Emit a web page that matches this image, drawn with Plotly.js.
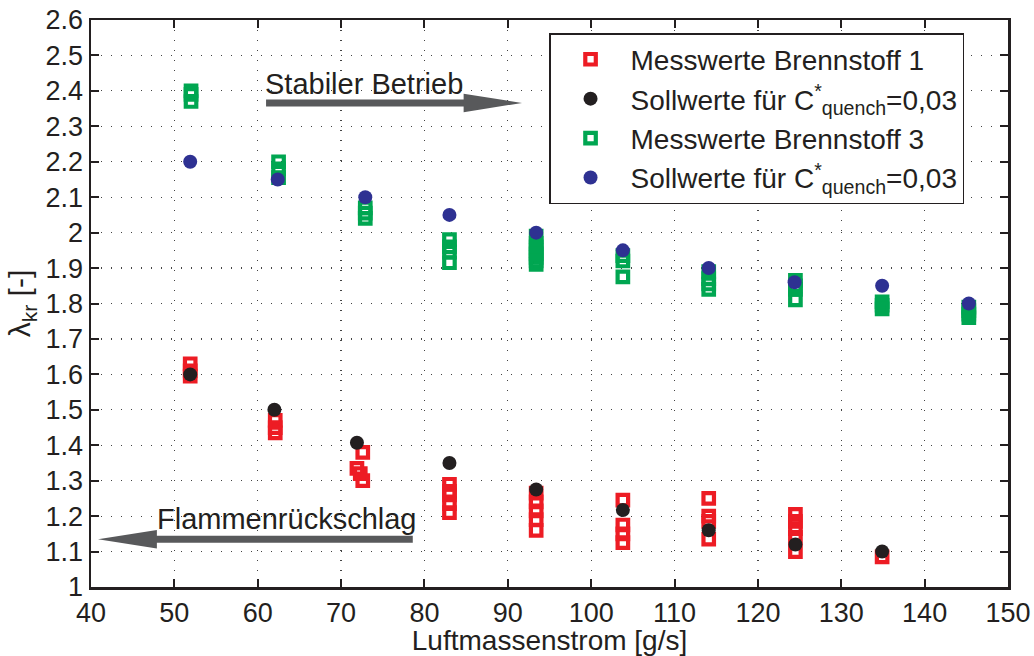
<!DOCTYPE html>
<html><head><meta charset="utf-8">
<script src="https://cdn.plot.ly/plotly-3.0.1.min.js"></script>
<style>body{margin:0;background:#fff}#c{width:1034px;height:656px}</style>
</head><body><div id="c"></div>
<script>
// Measured values, Brennstoff 1 (red squares)
const red_x = [51.9,51.9,51.9, 62.1,62.1,62.1, 72.6,71.9,72.3,72.6, 83,83,83,83,83,
  93.4,93.4,93.4,93.4,93.4, 103.8,103.8,103.8,103.8, 114.1,114.1,114.1,114.1,
  124.5,124.5,124.5,124.5,124.5, 134.9];
const red_y = [1.63,1.61,1.595, 1.47,1.45,1.435, 1.38,1.335,1.32,1.30, 1.29,1.27,1.26,1.235,1.21,
  1.265,1.24,1.215,1.19,1.16, 1.245,1.175,1.15,1.125, 1.25,1.20,1.185,1.135,
  1.205,1.185,1.165,1.14,1.10, 1.085];
// Target values, Brennstoff 1 (black dots)
const black_x = [51.9,62.0,71.9,83.0,93.4,103.8,114.1,124.5,134.9];
const black_y = [1.60,1.50,1.407,1.35,1.275,1.217,1.16,1.12,1.10];
// Measured values, Brennstoff 3 (green squares)
const green_x = [52,52,52, 62.5,62.5,62.5, 72.9,72.9,72.9, 83,83,83,83,
  93.4,93.4,93.4,93.4,93.4,93.4,93.4,93.4, 103.8,103.8,103.8, 114.1,114.1,114.1,114.1,
  124.5,124.5,124.5,124.5, 134.9,134.9,134.9, 145.3,145.3,145.3,145.3];
const green_y = [2.40,2.39,2.37, 2.20,2.18,2.155, 2.07,2.055,2.04, 1.98,1.96,1.945,1.915,
  1.99,1.97,1.96,1.95,1.94,1.93,1.92,1.91, 1.935,1.92,1.875, 1.89,1.87,1.855,1.84,
  1.865,1.85,1.84,1.81, 1.805,1.795,1.785, 1.79,1.78,1.77,1.76];
// Target values, Brennstoff 3 (blue dots)
const blue_x = [51.9,62.4,72.9,83.0,93.4,103.8,114.1,124.4,134.9,145.3];
const blue_y = [2.20,2.15,2.10,2.05,2.00,1.95,1.90,1.86,1.85,1.80];

const names = ['Messwerte Brennstoff 1','Sollwerte für C<sup>*</sup><sub>quench</sub>=0,03',
               'Messwerte Brennstoff 3','Sollwerte für C<sup>*</sup><sub>quench</sub>=0,03'];

const F = 'Liberation Sans, Arial, Helvetica, sans-serif';
const grey = '#58595B';
const ink = '#231F20';

const traces = [
  {x:red_x, y:red_y, name:names[0], type:'scatter', mode:'markers',
   marker:{symbol:'square-open', size:10.5, color:'#ED1C24', line:{width:4.2, color:'#ED1C24'}}},
  {x:black_x, y:black_y, name:names[1], type:'scatter', mode:'markers',
   marker:{symbol:'circle', size:14, color:ink}},
  {x:green_x, y:green_y, name:names[2], type:'scatter', mode:'markers',
   marker:{symbol:'square-open', size:10.5, color:'#00A651', line:{width:4.2, color:'#00A651'}}},
  {x:blue_x, y:blue_y, name:names[3], type:'scatter', mode:'markers',
   marker:{symbol:'circle', size:14, color:'#2E3192'}}
];

const axisCommon = {
  showline:true, linecolor:ink, linewidth:2.5, mirror:'ticks',
  ticks:'inside', ticklen:8, tickwidth:2, tickcolor:ink,
  showgrid:true, gridcolor:'#444', griddash:'1px,9px', gridwidth:1.2,
  zeroline:false, tickfont:{family:F, size:27, color:ink}
};

const layout = {
  width:1034, height:656,
  margin:{l:91, r:26, t:20, b:69},
  paper_bgcolor:'#fff', plot_bgcolor:'#fff',
  font:{family:F, color:ink},
  xaxis:Object.assign({}, axisCommon, {range:[40,150], dtick:10, tick0:40,
    title:{text:'Luftmassenstrom [g/s]', font:{family:F, size:28, color:ink}, standoff:2}}),
  yaxis:Object.assign({}, axisCommon, {range:[1,2.6], dtick:0.1, tick0:1,
    title:{text:'λ<sub>kr</sub> [-]', font:{family:F, size:30, color:ink}, standoff:6}}),
  legend:{x:0.4995, y:0.977, xanchor:'left', yanchor:'top',
    bgcolor:'#fff', bordercolor:ink, borderwidth:1.5,
    font:{family:F, size:28, color:ink}, itemwidth:70, tracegroupgap:0},
  showlegend:true,
  shapes:[
    {type:'line', xref:'x', yref:'y', x0:61.0, x1:85.5, y0:2.366, y1:2.366, line:{color:grey, width:7}},
    {type:'path', xref:'x', yref:'y', path:'M 91.7 2.366 L 84.7 2.392 L 84.7 2.340 Z', fillcolor:grey, line:{width:0}},
    {type:'line', xref:'x', yref:'y', x0:78.6, x1:47.0, y0:1.1345, y1:1.1345, line:{color:grey, width:7}},
    {type:'path', xref:'x', yref:'y', path:'M 40.84 1.1345 L 47.9 1.1605 L 47.9 1.1085 Z', fillcolor:grey, line:{width:0}}
  ],
  annotations:[
    {text:'Stabiler Betrieb', x:72.7, y:2.419, xref:'x', yref:'y', showarrow:false,
     font:{family:F, size:29, color:ink}},
    {text:'Flammenrückschlag', x:63.4, y:1.192, xref:'x', yref:'y', showarrow:false,
     font:{family:F, size:29, color:ink}}
  ]
};

Plotly.newPlot('c', traces, layout, {displayModeBar:false, staticPlot:true});
</script>
</body></html>
